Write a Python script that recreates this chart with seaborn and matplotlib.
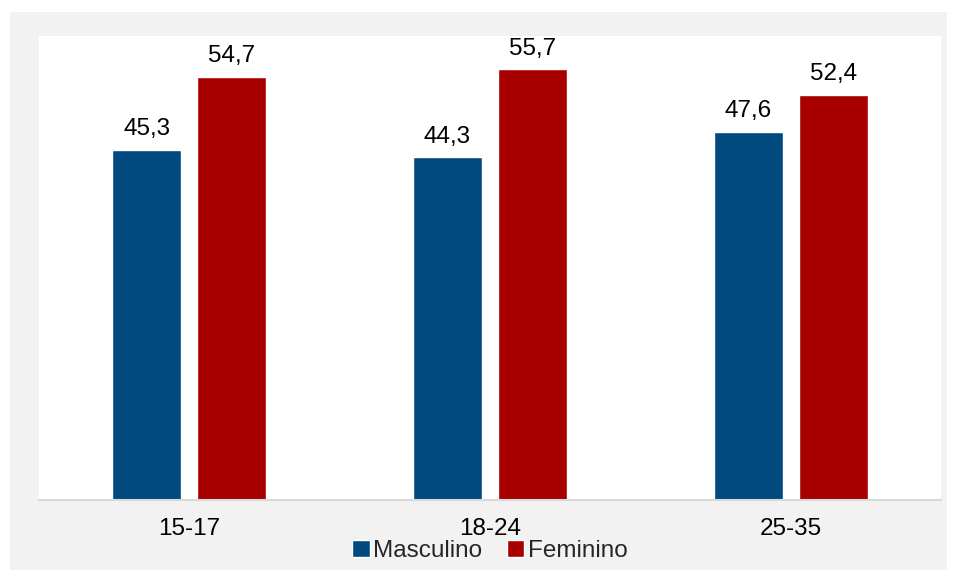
import matplotlib
matplotlib.use("Agg")
import matplotlib.pyplot as plt
from matplotlib.patches import Rectangle
import seaborn as sns
import pandas as pd

age_groups = ["15-17", "18-24", "25-35"]
masculino = [45.3, 44.3, 47.6]
feminino = [54.7, 55.7, 52.4]
series = ["Masculino", "Feminino"]
colors = ["#004a7f", "#a80000"]

df = pd.DataFrame({
    "grupo": age_groups * 2,
    "valor": masculino + feminino,
    "sexo": [series[0]] * 3 + [series[1]] * 3,
})

sns.set_theme(style="white")
plt.rcParams["font.family"] = ["Liberation Sans", "DejaVu Sans"]

FS = 17.5
W, H = 957, 581
fig = plt.figure(figsize=(W / 100, H / 100), dpi=100, facecolor="white")
# grey panel behind the chart
fig.patches.append(Rectangle((10 / W, 1 - 570 / H), 937 / W, 558 / H,
                             transform=fig.transFigure, facecolor="#f2f2f2",
                             edgecolor="none", zorder=-10))

ax = fig.add_axes([39 / W, 1 - 500 / H, 902 / W, 464 / H])
ax.set_zorder(1)
ax.set_facecolor("white")

sns.barplot(data=df, x="grupo", y="valor", hue="sexo", order=age_groups,
            hue_order=series, palette=colors, width=0.565, gap=0.186,
            saturation=1, ax=ax, legend=True)

for container in ax.containers:
    ax.bar_label(container, labels=[f"{v:.1f}".replace(".", ",") for v in container.datavalues],
                 padding=7, fontsize=FS, color="black")

ax.set_ylim(0, 60)
ax.set_xlim(-0.5, 2.5)
ax.set_yticks([])
ax.set_xlabel("")
ax.set_ylabel("")
ax.tick_params(axis="x", length=0, labelsize=FS, pad=13, colors="black")
for side in ["top", "right", "left"]:
    ax.spines[side].set_visible(False)
ax.spines["bottom"].set_color("#d9d9d9")
ax.spines["bottom"].set_linewidth(1.5)

leg = ax.legend(loc="center", bbox_to_anchor=(0.5, -0.11), ncol=2,
                frameon=False, fontsize=FS, handlelength=0.72, handleheight=0.72,
                handletextpad=0.15, columnspacing=1.0, borderpad=0)

fig.savefig("out.png", dpi=100, facecolor="white")
